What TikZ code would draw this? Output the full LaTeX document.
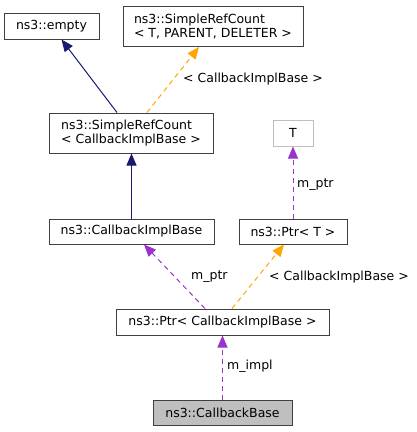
\documentclass[tikz,border=0pt]{standalone}
\usepackage{fontspec}
\setmainfont{DejaVu Sans}
\usetikzlibrary{arrows.meta}
\definecolor{navyc}{HTML}{191970}
\definecolor{orangec}{HTML}{FFA500}
\definecolor{purplec}{HTML}{9A32CD}
\definecolor{boxline}{HTML}{404040}
\definecolor{greyline}{HTML}{BFBFBF}
\definecolor{fillc}{HTML}{BFBFBF}
\begin{document}
\begin{tikzpicture}[x=1pt,y=-1pt,
  every node/.style={font=\fontsize{12.5}{14.5}\selectfont, inner sep=0pt},
  cls/.style={draw=boxline, line width=1pt, minimum width=#1, align=left},
  cls/.default=100pt,
  inh/.style={draw=navyc, line width=1pt, -{Triangle[length=12pt,width=10pt]}},
  tmpl/.style={draw=orangec, line width=1pt, dash pattern=on 5pt off 4pt, -{Triangle[length=12pt,width=10pt]}},
  use/.style={draw=purplec, line width=1pt, dash pattern=on 5pt off 4pt, -{Triangle[length=12pt,width=10pt]}},
  lbl/.style={anchor=west}
]
\useasboundingbox (0,0) rectangle (417,432);
\node[cls=95pt, minimum height=26pt] (empty) at (51.5,26) {ns3::empty};
\node[cls=180pt, minimum height=40pt] (srcT) at (213,26.5) {ns3::SimpleRefCount\\\textless{} T, PARENT, DELETER \textgreater{}};
\node[cls=164pt, minimum height=40pt] (srcC) at (131,133) {ns3::SimpleRefCount\\\textless{} CallbackImplBase \textgreater{}};
\node[draw=greyline, line width=1pt, minimum width=40pt, minimum height=26pt] (T) at (293,133) {T};
\node[cls=165pt, minimum height=25pt] (cib) at (131.5,231.5) {ns3::CallbackImplBase};
\node[cls=108pt, minimum height=25pt] (ptrT) at (293,231.5) {ns3::Ptr\textless{} T \textgreater{}};
\node[cls=213pt, minimum height=26pt] (ptrC) at (222.5,322) {ns3::Ptr\textless{} CallbackImplBase \textgreater{}};
\node[draw=boxline, fill=fillc, line width=1pt, minimum width=139pt, minimum height=25pt] (cb) at (222.5,412.5) {ns3::CallbackBase};

\draw[inh] ([xshift=-14pt]srcC.north) -- ([xshift=10pt]empty.south);
\draw[tmpl] ([xshift=16pt]srcC.north) -- ([xshift=-14pt]srcT.south);
\draw[inh] (cib.north) -- (cib.north |- srcC.south);
\draw[use] (ptrT.north) -- (T.south);
\draw[use] ([xshift=-17.5pt]ptrC.north) -- ([xshift=12.5pt]cib.south);
\draw[tmpl] ([xshift=9.5pt]ptrC.north) -- ([xshift=-9pt]ptrT.south);
\draw[use] (cb.north) -- (ptrC.south);

\node[lbl] (l1) at (183,79) {\textless{} CallbackImplBase \textgreater{}};
\node[lbl] (l2) at (297,185) {m\_ptr};
\node[lbl] (l3) at (191,277) {m\_ptr};
\node[lbl] (l4) at (269,277) {\textless{} CallbackImplBase \textgreater{}};
\node[lbl] (l5) at (227,366) {m\_impl};
\end{tikzpicture}
\end{document}
